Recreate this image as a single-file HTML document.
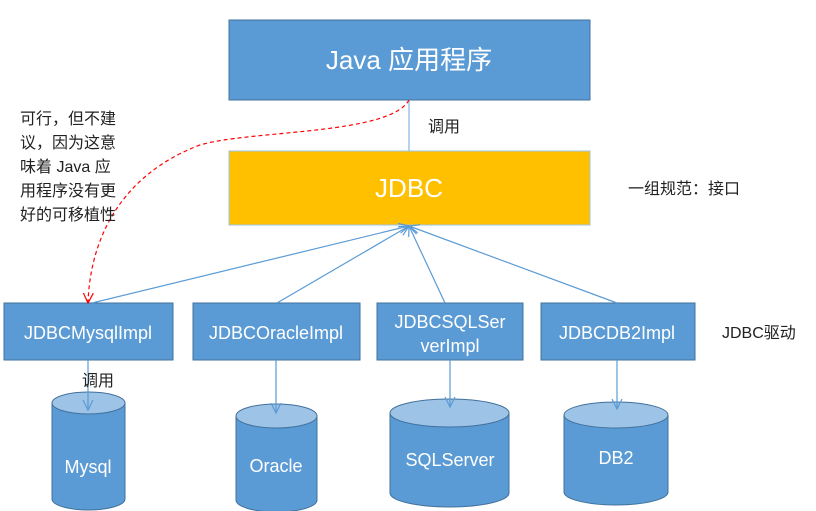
<!DOCTYPE html>
<html><head><meta charset="utf-8"><style>
body{margin:0;background:#fff;width:816px;height:511px;overflow:hidden;font-family:"Liberation Sans","Noto Sans CJK SC",sans-serif}
</style></head><body>
<svg width="816" height="511" xmlns="http://www.w3.org/2000/svg" style="position:absolute;left:0;top:0">
<defs>
<marker id="a" markerWidth="12" markerHeight="12" refX="10" refY="6" orient="auto" markerUnits="userSpaceOnUse"><path d="M0,1 L10,6 L0,11" fill="none" stroke="#5b9bd5" stroke-width="1.2"/></marker>
<marker id="r" markerWidth="12" markerHeight="12" refX="10" refY="6" orient="auto" markerUnits="userSpaceOnUse"><path d="M0,1 L10,6 L0,11" fill="none" stroke="#ff0000" stroke-width="1.2"/></marker>
</defs>
<g font-family="Liberation Sans, Noto Sans CJK SC, sans-serif">
<rect x="229" y="20" width="361" height="80" fill="#5b9bd5" stroke="#41719c"/>
<text x="409" y="69" fill="#fff" font-size="26" text-anchor="middle">Java 应用程序</text>
<line x1="409" y1="100" x2="409" y2="151" stroke="#9dc3e6" stroke-width="1.5"/>
<rect x="229" y="151" width="361" height="74" fill="#ffc000" stroke="#9dc3e6"/>
<text x="409" y="197" fill="#fff" font-size="26" text-anchor="middle">JDBC</text>
<g fill="#5b9bd5" stroke="#41719c">
<rect x="4" y="303" width="169" height="57"/>
<rect x="193" y="303" width="167" height="57"/>
<rect x="377" y="303" width="146" height="57"/>
<rect x="541" y="303" width="154" height="57"/>
</g>
<g fill="#fff" font-size="18" text-anchor="middle">
<text x="88" y="339">JDBCMysqlImpl</text>
<text x="276" y="339">JDBCOracleImpl</text>
<text x="450" y="328">JDBCSQLSer</text>
<text x="450" y="352">verImpl</text>
<text x="617" y="339">JDBCDB2Impl</text>
</g>
<g stroke="#41719c" stroke-width="1">
<path d="M52,403 L52,499 A36.5,11 0 0 0 125,499 L125,403" fill="#5b9bd5"/>
<ellipse cx="88.5" cy="403" rx="36.5" ry="11" fill="#9dc3e6"/>
<path d="M236,416 L236,500 A40.5,12 0 0 0 317,500 L317,416" fill="#5b9bd5"/>
<ellipse cx="276.5" cy="416" rx="40.5" ry="12" fill="#9dc3e6"/>
<path d="M390,413 L390,493 A59.5,14 0 0 0 509,493 L509,413" fill="#5b9bd5"/>
<ellipse cx="449.5" cy="413" rx="59.5" ry="14" fill="#9dc3e6"/>
<path d="M564,415 L564,492 A52,13 0 0 0 668,492 L668,415" fill="#5b9bd5"/>
<ellipse cx="616" cy="415" rx="52" ry="13" fill="#9dc3e6"/>
</g>
<g stroke="#5b9bd5" stroke-width="1.2" marker-end="url(#a)">
<line x1="92" y1="303" x2="409" y2="226"/>
<line x1="277" y1="303" x2="409" y2="226"/>
<line x1="445" y1="303" x2="409" y2="226"/>
<line x1="617" y1="303" x2="409" y2="226"/>
<line x1="88" y1="360" x2="88" y2="410"/>
<line x1="276" y1="360" x2="276" y2="413"/>
<line x1="450" y1="360" x2="450" y2="407"/>
<line x1="617" y1="360" x2="617" y2="409"/>
</g>
<path d="M409,100 C390,135 250,130 200,145 C120,175 90,240 88,303" fill="none" stroke="#ff0000" stroke-width="1.2" stroke-dasharray="4,3" marker-end="url(#r)"/>
<g fill="#fff" font-size="18" text-anchor="middle">
<text x="88" y="473">Mysql</text>
<text x="276" y="472">Oracle</text>
<text x="450" y="466">SQLServer</text>
<text x="616" y="464">DB2</text>
</g>
<g fill="#222" font-size="16">
<text x="428" y="132">调用</text>
<text x="628" y="194">一组规范：接口</text>
<text x="722" y="338">JDBC驱动</text>
<text x="82" y="386">调用</text>
<text x="20" y="124">可行，但不建</text>
<text x="20" y="148">议，因为这意</text>
<text x="20" y="172">味着 Java 应</text>
<text x="20" y="196">用程序没有更</text>
<text x="20" y="220">好的可移植性</text>
</g>
</g>
</svg>
</body></html>
